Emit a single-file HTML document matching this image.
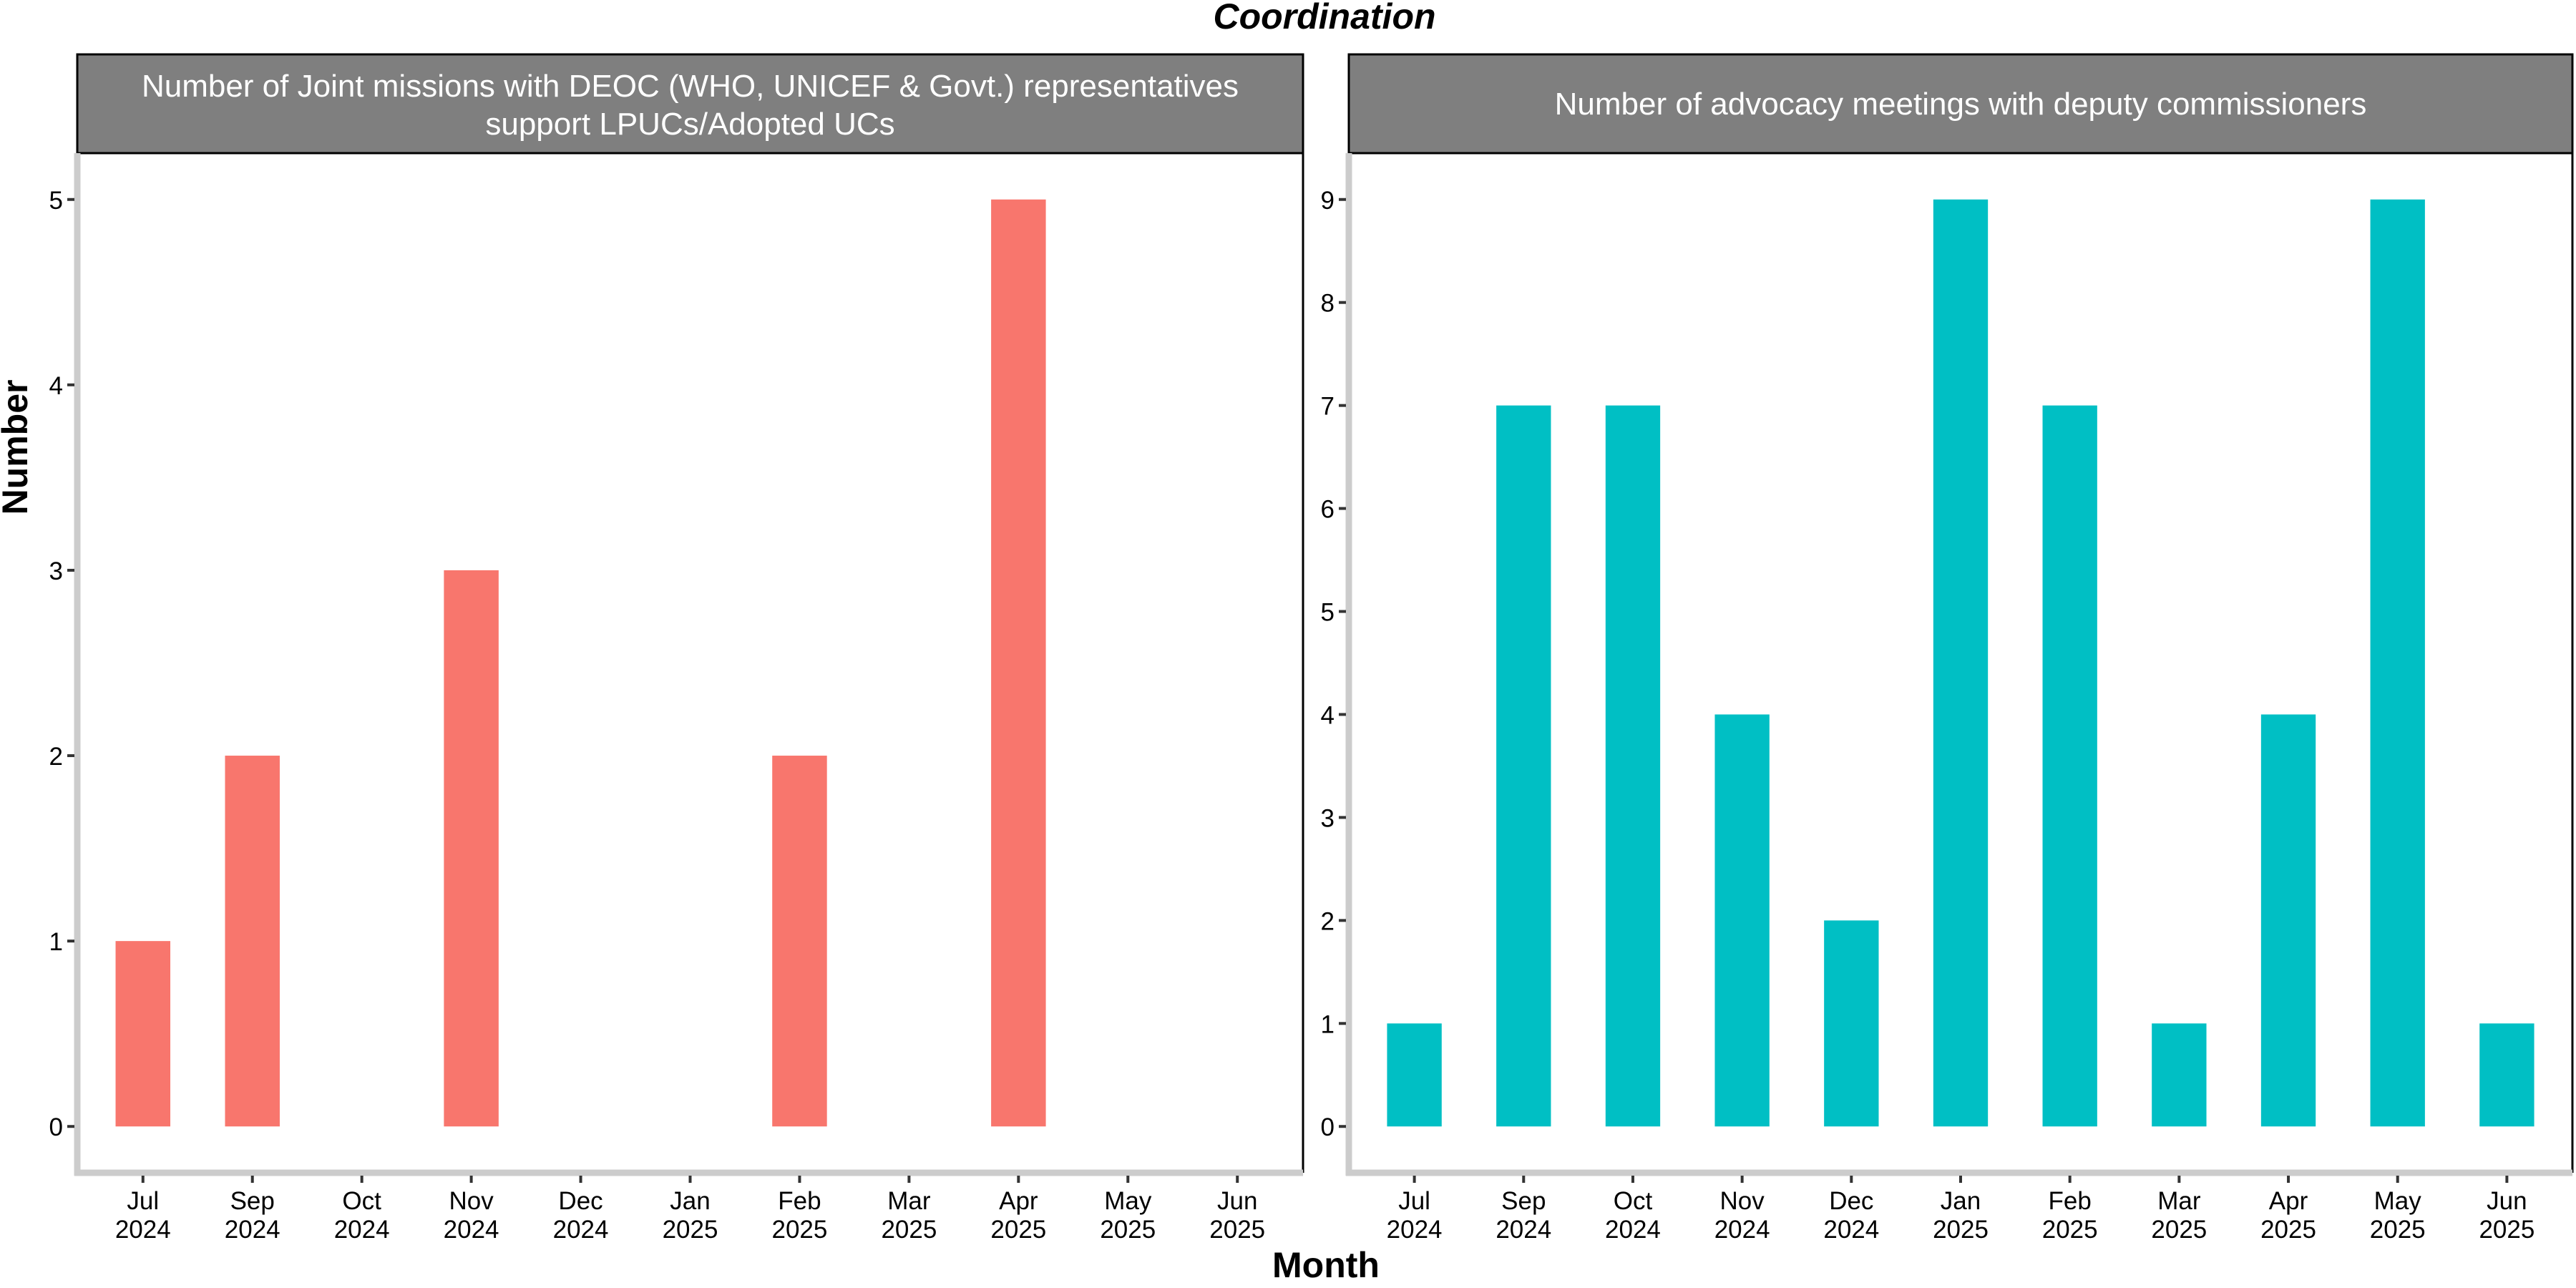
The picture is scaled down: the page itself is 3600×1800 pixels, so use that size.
<!DOCTYPE html>
<html><head><meta charset="utf-8"><style>
html,body{margin:0;padding:0;background:#fff;}
svg{display:block;font-family:"Liberation Sans",Arial,sans-serif;}
</style></head><body>
<svg id="chart" width="3600" height="1800" viewBox="0 0 3600 1800" xmlns="http://www.w3.org/2000/svg">
<text x="1851" y="40" text-anchor="middle" font-size="50" font-weight="bold" font-style="italic">Coordination</text>
<text transform="translate(38,625) rotate(-90)" text-anchor="middle" font-size="50" font-weight="bold">Number</text>
<text x="1853" y="1785" text-anchor="middle" font-size="50" font-weight="bold">Month</text>
<g id="panels"></g>
</svg>
<script>
const categories = ["Jul\n2024","Sep\n2024","Oct\n2024","Nov\n2024","Dec\n2024","Jan\n2025","Feb\n2025","Mar\n2025","Apr\n2025","May\n2025","Jun\n2025"];
const missionsValues = [1,2,0,3,0,0,2,0,5,0,0];
const advocacyValues = [1,7,7,4,2,9,7,1,4,9,1];
const missionsTicks = [0,1,2,3,4,5];
const advocacyTicks = [0,1,2,3,4,5,6,7,8,9];

const NS = "http://www.w3.org/2000/svg";
const root = document.getElementById("panels");
function mk(tag, attrs, parent){
  const e = document.createElementNS(NS, tag);
  for (const k in attrs) e.setAttribute(k, attrs[k]);
  (parent||root).appendChild(e);
  return e;
}
const plotTop = 214, plotBottom = 1639;

function drawPanel(x0, x1, values, ticks, color, titleLines, name){
  const g = mk("g", {});
  
  
  const n = categories.length;
  const step = (x1 - x0) / (n - 1 + 1.2);
  const xScale = i => x0 + step * (0.6 + i);
  const maxV = ticks[ticks.length-1];
  const lo = -0.05*maxV, hi = maxV*1.05;
  const yScale = v => plotBottom - (v - lo) / (hi - lo) * (plotBottom - plotTop);

  const clipId = name + "-clip";
  const defs = mk("defs", {}, g);
  const cp = mk("clipPath", {id: clipId}, defs);
  mk("rect", {x: x0, y: 76, width: x1 - x0, height: plotTop - 76}, cp);
  const strip = mk("rect", {x: x0, y: 76, width: x1 - x0, height: plotTop - 76, fill: "#7f7f7f", stroke: "#000", "stroke-width": 3}, g);
  
  
  const st = mk("text", {x: (x0 + x1) / 2, "text-anchor": "middle", fill: "#fff", "font-size": 44, "clip-path": "url(#" + clipId + ")"}, g);
  
  
  const ys = titleLines.length === 2 ? [135, 188] : [160];
  titleLines.forEach((l, i) => {
    const ts = mk("tspan", {x: (x0 + x1) / 2, y: ys[i]}, st);
    ts.textContent = l;
  });

  const rb = mk("line", {x1: x1, y1: plotTop, x2: x1, y2: plotBottom, stroke: "#000", "stroke-width": 3}, g);
  
  

  values.forEach((v, i) => {
    if (v <= 0) return;
    const cx = xScale(i), w = step * 0.5;
    const r = mk("rect", {x: cx - w/2, y: yScale(v), width: w, height: yScale(0) - yScale(v), fill: color}, g);
    
    
  });

  const ya = mk("line", {x1: x0, y1: plotTop, x2: x0, y2: plotBottom + 4, stroke: "#cccccc", "stroke-width": 9}, g);
  
  
  const xa = mk("line", {x1: x0 - 4, y1: plotBottom, x2: x1, y2: plotBottom, stroke: "#cccccc", "stroke-width": 9}, g);
  
  

  ticks.forEach(t => {
    const y = yScale(t);
    const tk = mk("line", {x1: x0 - 14, y1: y, x2: x0 - 4, y2: y, stroke: "#333", "stroke-width": 4}, g);
    
    
    const tl = mk("text", {x: x0 - 20, y: y + 13, "text-anchor": "end", "font-size": 35}, g);
    
    
    tl.textContent = t;
  });
  categories.forEach((c, i) => {
    const x = xScale(i);
    const tk = mk("line", {x1: x, y1: plotBottom + 4, x2: x, y2: plotBottom + 14, stroke: "#333", "stroke-width": 4}, g);
    
    
    const tl = mk("text", {x: x, "text-anchor": "middle", "font-size": 35}, g);
    
    
    c.split("\n").forEach((p, j) => {
      const ts = mk("tspan", {x: x, y: 1690 + j * 40}, tl);
      ts.textContent = p;
    });
  });
}

drawPanel(108, 1821, missionsValues, missionsTicks, "#F8766D",
  ["Number of Joint missions with DEOC (WHO, UNICEF & Govt.) representatives", "support LPUCs/Adopted UCs"], "joint-missions");
drawPanel(1885, 3595, advocacyValues, advocacyTicks, "#00BFC4",
  ["Number of advocacy meetings with deputy commissioners"], "advocacy-meetings");
</script>
</body></html>
